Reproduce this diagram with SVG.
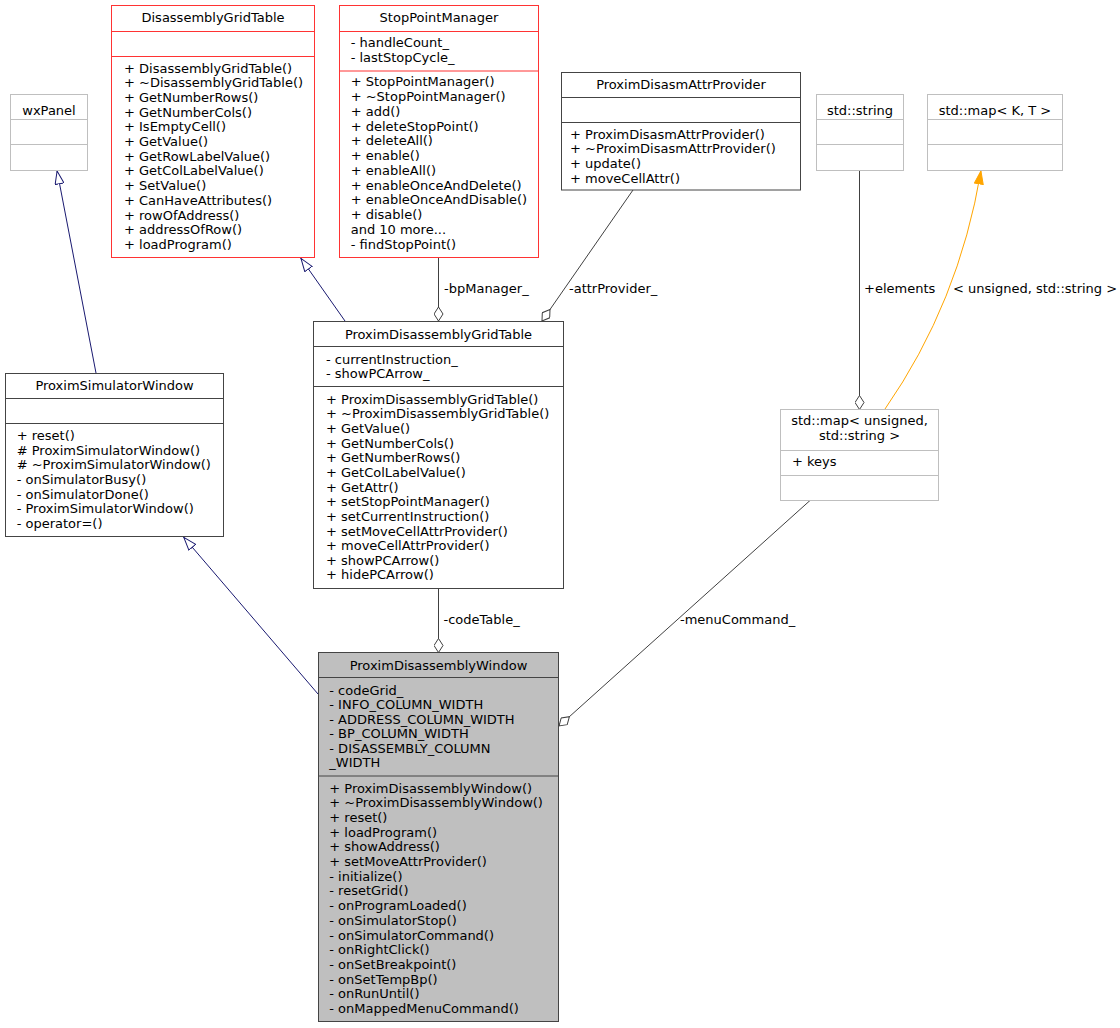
<svg xmlns="http://www.w3.org/2000/svg" width="1120" height="1028" viewBox="0 0 1120 1028">
<style>
text{font-family:"DejaVu Sans","Liberation Sans",sans-serif;font-size:13px;fill:#000}
.t{text-anchor:middle}
.box{fill:#fff;stroke:#444;stroke-width:1}
.red{fill:#fff;stroke:#f33;stroke-width:1}
.gry{fill:#fff;stroke:#bfbfbf;stroke-width:1}
.main{fill:#bfbfbf;stroke:#444;stroke-width:1}
.inh{fill:none;stroke:#191970;stroke-width:1}
.use{fill:none;stroke:#404040;stroke-width:1}
.tpl{fill:none;stroke:#ffa500;stroke-width:1}
</style>
<defs>
<marker id="tri" viewBox="0 0 14 10" refX="14" refY="5" markerWidth="14" markerHeight="10" markerUnits="userSpaceOnUse" orient="auto">
<path d="M0.5,0.5 L13.5,5 L0.5,9.5 z" fill="#fff" stroke="#191970" stroke-width="1"/>
</marker>
<marker id="dia" viewBox="0 0 15 10" refX="14.5" refY="5" markerWidth="15" markerHeight="10" markerUnits="userSpaceOnUse" orient="auto">
<path d="M0.5,5 L7.5,0.5 L14.5,5 L7.5,9.5 z" fill="#fff" stroke="#404040" stroke-width="1"/>
</marker>
<marker id="otri" viewBox="0 0 14 10" refX="14" refY="5" markerWidth="14" markerHeight="10" markerUnits="userSpaceOnUse" orient="auto">
<path d="M0.5,0.5 L13.5,5 L0.5,9.5 z" fill="#ffa500" stroke="#ffa500" stroke-width="1"/>
</marker>
</defs>
<rect width="1120" height="1028" fill="#fff"/>

<g id="edges">
<path class="inh" d="M96,373 L57,170.5" marker-end="url(#tri)"/>
<path class="inh" d="M345,321 L300.7,258" marker-end="url(#tri)"/>
<path class="inh" d="M318,694 L183.5,537" marker-end="url(#tri)"/>
<path class="use" d="M438.5,258 L438.5,321" marker-end="url(#dia)"/>
<path class="use" d="M633,190 L542,321" marker-end="url(#dia)"/>
<path class="use" d="M438.5,588.5 L438.5,652.5" marker-end="url(#dia)"/>
<path class="use" d="M810,500.5 L559,726" marker-end="url(#dia)"/>
<path class="use" d="M859.5,170.5 L859.5,409.5" marker-end="url(#dia)"/>
<path class="tpl" d="M885,409 Q959,302.5 981,170.5" marker-end="url(#otri)"/>
<text x="444" y="292.5">-bpManager_</text>
<text x="569" y="292.5">-attrProvider_</text>
<text x="864" y="292.5">+elements</text>
<text x="953" y="292.5">&lt; unsigned, std::string &gt;</text>
<text x="443.5" y="623.8">-codeTable_</text>
<text x="680" y="623.8">-menuCommand_</text>
</g>

<g id="wxPanel">
<rect class="gry" x="10.5" y="94.5" width="77" height="76"/>
<path class="gry" d="M10.5,119.5 H87.5 M10.5,144.5 H87.5"/>
<text class="t" x="49" y="114.5">wxPanel</text>
</g>

<g id="DisassemblyGridTable">
<rect class="red" x="111.5" y="5.5" width="203" height="252"/>
<path class="red" d="M111.5,31.5 H314.5 M111.5,56.5 H314.5"/>
<text class="t" x="213" y="21.5">DisassemblyGridTable</text>
<text x="124" y="72.8"><tspan x="124">+ DisassemblyGridTable()</tspan><tspan x="124" dy="14.67">+ ~DisassemblyGridTable()</tspan><tspan x="124" dy="14.67">+ GetNumberRows()</tspan><tspan x="124" dy="14.67">+ GetNumberCols()</tspan><tspan x="124" dy="14.67">+ IsEmptyCell()</tspan><tspan x="124" dy="14.67">+ GetValue()</tspan><tspan x="124" dy="14.67">+ GetRowLabelValue()</tspan><tspan x="124" dy="14.67">+ GetColLabelValue()</tspan><tspan x="124" dy="14.67">+ SetValue()</tspan><tspan x="124" dy="14.67">+ CanHaveAttributes()</tspan><tspan x="124" dy="14.67">+ rowOfAddress()</tspan><tspan x="124" dy="14.67">+ addressOfRow()</tspan><tspan x="124" dy="14.67">+ loadProgram()</tspan></text>
</g>

<g id="StopPointManager">
<rect class="red" x="339.5" y="5.5" width="199" height="252"/>
<path class="red" d="M339.5,31.5 H538.5 M339.5,71 H538.5"/>
<text class="t" x="439" y="21.5">StopPointManager</text>
<text x="350.7" y="47.2"><tspan x="350.7">- handleCount_</tspan><tspan x="350.7" dy="14.7">- lastStopCycle_</tspan></text>
<text x="350.7" y="86.2"><tspan x="350.7">+ StopPointManager()</tspan><tspan x="350.7" dy="14.78">+ ~StopPointManager()</tspan><tspan x="350.7" dy="14.78">+ add()</tspan><tspan x="350.7" dy="14.78">+ deleteStopPoint()</tspan><tspan x="350.7" dy="14.78">+ deleteAll()</tspan><tspan x="350.7" dy="14.78">+ enable()</tspan><tspan x="350.7" dy="14.78">+ enableAll()</tspan><tspan x="350.7" dy="14.78">+ enableOnceAndDelete()</tspan><tspan x="350.7" dy="14.78">+ enableOnceAndDisable()</tspan><tspan x="350.7" dy="14.78">+ disable()</tspan><tspan x="350.7" dy="14.78">and 10 more...</tspan><tspan x="350.7" dy="14.78">- findStopPoint()</tspan></text>
</g>

<g id="ProximDisasmAttrProvider">
<rect class="box" x="561.5" y="72.5" width="239" height="117.5"/>
<path class="box" d="M561.5,97.5 H800.5 M561.5,122.5 H800.5"/>
<text class="t" x="681" y="88.5">ProximDisasmAttrProvider</text>
<text x="570" y="138.5"><tspan x="570">+ ProximDisasmAttrProvider()</tspan><tspan x="570" dy="14.7">+ ~ProximDisasmAttrProvider()</tspan><tspan x="570" dy="14.7">+ update()</tspan><tspan x="570" dy="14.7">+ moveCellAttr()</tspan></text>
</g>

<g id="stdstring">
<rect class="gry" x="816.5" y="94.5" width="87" height="76"/>
<path class="gry" d="M816.5,119.5 H903.5 M816.5,144.5 H903.5"/>
<text class="t" x="860" y="114.5">std::string</text>
</g>

<g id="stdmapKT">
<rect class="gry" x="927.5" y="94.5" width="135" height="76"/>
<path class="gry" d="M927.5,119.5 H1062.5 M927.5,144.5 H1062.5"/>
<text class="t" x="995" y="114.5">std::map&lt; K, T &gt;</text>
</g>

<g id="ProximSimulatorWindow">
<rect class="box" x="5.5" y="373.5" width="218" height="163"/>
<path class="box" d="M5.5,398.5 H223.5 M5.5,423.5 H223.5"/>
<text class="t" x="114.5" y="389.5">ProximSimulatorWindow</text>
<text x="16.7" y="440.2"><tspan x="16.7">+ reset()</tspan><tspan x="16.7" dy="14.6"># ProximSimulatorWindow()</tspan><tspan x="16.7" dy="14.6"># ~ProximSimulatorWindow()</tspan><tspan x="16.7" dy="14.6">- onSimulatorBusy()</tspan><tspan x="16.7" dy="14.6">- onSimulatorDone()</tspan><tspan x="16.7" dy="14.6">- ProximSimulatorWindow()</tspan><tspan x="16.7" dy="14.6">- operator=()</tspan></text>
</g>

<g id="ProximDisassemblyGridTable">
<rect class="box" x="313.5" y="321.5" width="250" height="267"/>
<path class="box" d="M313.5,346.5 H563.5 M313.5,386.5 H563.5"/>
<text class="t" x="438.5" y="338.5">ProximDisassemblyGridTable</text>
<text x="326" y="363.5"><tspan x="326">- currentInstruction_</tspan><tspan x="326" dy="14.5">- showPCArrow_</tspan></text>
<text x="326" y="403.8"><tspan x="326">+ ProximDisassemblyGridTable()</tspan><tspan x="326" dy="14.64">+ ~ProximDisassemblyGridTable()</tspan><tspan x="326" dy="14.64">+ GetValue()</tspan><tspan x="326" dy="14.64">+ GetNumberCols()</tspan><tspan x="326" dy="14.64">+ GetNumberRows()</tspan><tspan x="326" dy="14.64">+ GetColLabelValue()</tspan><tspan x="326" dy="14.64">+ GetAttr()</tspan><tspan x="326" dy="14.64">+ setStopPointManager()</tspan><tspan x="326" dy="14.64">+ setCurrentInstruction()</tspan><tspan x="326" dy="14.64">+ setMoveCellAttrProvider()</tspan><tspan x="326" dy="14.64">+ moveCellAttrProvider()</tspan><tspan x="326" dy="14.64">+ showPCArrow()</tspan><tspan x="326" dy="14.64">+ hidePCArrow()</tspan></text>
</g>

<g id="stdmapUS">
<rect class="gry" x="780.5" y="409.5" width="158" height="91"/>
<path class="gry" d="M780.5,450.5 H938.5 M780.5,475.5 H938.5"/>
<text class="t" x="859.5" y="424.5"><tspan x="859.5">std::map&lt; unsigned,</tspan><tspan x="859.5" dy="15">std::string &gt;</tspan></text>
<text x="792" y="466">+ keys</text>
</g>

<g id="ProximDisassemblyWindow">
<rect class="main" x="318.5" y="652.5" width="240" height="369"/>
<path class="main" d="M318.5,677.5 H558.5 M318.5,776 H558.5"/>
<text class="t" x="438.5" y="669.5">ProximDisassemblyWindow</text>
<text x="329.3" y="694.5"><tspan x="329.3">- codeGrid_</tspan><tspan x="329.3" dy="14.5">- INFO_COLUMN_WIDTH</tspan><tspan x="329.3" dy="14.5">- ADDRESS_COLUMN_WIDTH</tspan><tspan x="329.3" dy="14.5">- BP_COLUMN_WIDTH</tspan><tspan x="329.3" dy="14.5">- DISASSEMBLY_COLUMN</tspan><tspan x="329.3" dy="14.5">_WIDTH</tspan></text>
<text x="329.3" y="792.8"><tspan x="329.3">+ ProximDisassemblyWindow()</tspan><tspan x="329.3" dy="14.67">+ ~ProximDisassemblyWindow()</tspan><tspan x="329.3" dy="14.67">+ reset()</tspan><tspan x="329.3" dy="14.67">+ loadProgram()</tspan><tspan x="329.3" dy="14.67">+ showAddress()</tspan><tspan x="329.3" dy="14.67">+ setMoveAttrProvider()</tspan><tspan x="329.3" dy="14.67">- initialize()</tspan><tspan x="329.3" dy="14.67">- resetGrid()</tspan><tspan x="329.3" dy="14.67">- onProgramLoaded()</tspan><tspan x="329.3" dy="14.67">- onSimulatorStop()</tspan><tspan x="329.3" dy="14.67">- onSimulatorCommand()</tspan><tspan x="329.3" dy="14.67">- onRightClick()</tspan><tspan x="329.3" dy="14.67">- onSetBreakpoint()</tspan><tspan x="329.3" dy="14.67">- onSetTempBp()</tspan><tspan x="329.3" dy="14.67">- onRunUntil()</tspan><tspan x="329.3" dy="14.67">- onMappedMenuCommand()</tspan></text>
</g>
</svg>
